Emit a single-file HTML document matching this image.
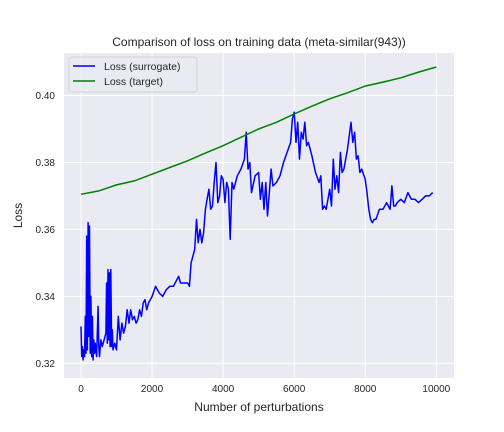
<!DOCTYPE html>
<html><head><meta charset="utf-8"><style>
body{margin:0;background:#fff}
svg{display:block;font-family:"Liberation Sans","DejaVu Sans",sans-serif}
</style></head><body>
<svg id="chart" width="504" height="432" viewBox="0 0 504 432" xmlns="http://www.w3.org/2000/svg">
<rect x="0" y="0" width="504" height="432" fill="#fff"/>
<rect x="64" y="53" width="390" height="325" fill="#EAEAF2"/>
<g id="grid"></g>
<g id="series"></g>
<g id="ticks"></g>
<text x="259" y="46" text-anchor="middle" font-size="12" fill="#262626">Comparison of loss on training data (meta-similar(943))</text>
<text x="259" y="411" text-anchor="middle" font-size="12" fill="#262626">Number of perturbations</text>
<text transform="translate(22,215.5) rotate(-90)" text-anchor="middle" font-size="12" fill="#262626">Loss</text>
<g>
<rect x="69" y="57" width="128" height="35" rx="3" fill="#EAEAF2" fill-opacity="0.8" stroke="#cccccc" stroke-width="0.8"/>
<line x1="73" y1="66" x2="95" y2="66" stroke="#0000ff" stroke-width="1.5"/>
<text x="104" y="70" font-size="10.5" fill="#262626">Loss (surrogate)</text>
<line x1="73" y1="81" x2="95" y2="81" stroke="#008000" stroke-width="1.5"/>
<text x="104" y="85" font-size="10.5" fill="#262626">Loss (target)</text>
</g>
</svg>
<script>
const xTicks=[0,2000,4000,6000,8000,10000];
const yTicks=[0.32,0.34,0.36,0.38,0.40];
const yTickLabels=["0.32","0.34","0.36","0.38","0.40"];
const targetX=[0,500,1000,1500,2000,2500,3000,3500,4000,4500,5000,5500,6000,6500,7000,7500,8000,8500,9000,9500,10000];
const targetY=[0.3705,0.3715,0.3733,0.3745,0.3765,0.3785,0.3805,0.3828,0.3850,0.3875,0.3900,0.3920,0.3945,0.3968,0.3990,0.4008,0.4028,0.4040,0.4053,0.4070,0.4085];
const surX=[0,20,40,60,80,100,120,140,160,180,200,220,240,260,280,300,320,340,360,380,400,440,480,500,520,560,600,650,700,720,740,760,780,800,820,840,860,880,900,950,1000,1050,1100,1150,1200,1250,1300,1350,1400,1450,1500,1550,1600,1650,1700,1750,1800,1850,1900,2000,2100,2200,2300,2400,2500,2600,2700,2750,2800,2900,3000,3050,3100,3150,3200,3250,3300,3350,3400,3450,3500,3550,3600,3650,3700,3750,3800,3850,3900,3950,4000,4050,4100,4150,4200,4250,4300,4400,4500,4600,4650,4700,4750,4800,4900,5000,5050,5100,5150,5200,5250,5300,5350,5400,5500,5600,5700,5800,5900,5950,6000,6050,6100,6150,6200,6250,6300,6350,6400,6500,6600,6700,6750,6800,6850,6900,7000,7050,7100,7150,7200,7250,7300,7350,7400,7500,7600,7650,7700,7750,7800,7850,7900,8000,8050,8100,8150,8200,8250,8300,8400,8500,8600,8700,8750,8800,8850,8900,9000,9100,9200,9300,9400,9500,9600,9700,9800,9900,10000];
const surY=[0.331,0.322,0.325,0.321,0.324,0.322,0.334,0.323,0.358,0.324,0.362,0.328,0.361,0.323,0.340,0.322,0.334,0.321,0.327,0.323,0.326,0.322,0.337,0.325,0.322,0.327,0.325,0.327,0.329,0.344,0.326,0.348,0.327,0.347,0.325,0.348,0.325,0.330,0.324,0.326,0.324,0.334,0.327,0.332,0.329,0.331,0.336,0.332,0.336,0.333,0.334,0.332,0.333,0.336,0.334,0.338,0.339,0.336,0.338,0.340,0.343,0.341,0.340,0.342,0.343,0.343,0.345,0.346,0.344,0.344,0.344,0.343,0.350,0.352,0.354,0.363,0.356,0.360,0.356,0.359,0.366,0.369,0.372,0.366,0.367,0.374,0.380,0.368,0.370,0.376,0.375,0.368,0.374,0.372,0.357,0.374,0.372,0.376,0.378,0.381,0.389,0.378,0.380,0.371,0.376,0.377,0.369,0.374,0.366,0.374,0.364,0.371,0.378,0.373,0.374,0.376,0.380,0.383,0.386,0.393,0.395,0.386,0.392,0.381,0.389,0.387,0.392,0.385,0.386,0.382,0.377,0.374,0.376,0.366,0.367,0.366,0.372,0.367,0.381,0.372,0.376,0.371,0.383,0.377,0.378,0.384,0.392,0.386,0.389,0.381,0.382,0.377,0.378,0.375,0.371,0.366,0.363,0.362,0.363,0.363,0.366,0.366,0.368,0.366,0.373,0.367,0.367,0.368,0.369,0.368,0.371,0.369,0.369,0.368,0.369,0.370,0.370,0.371];
const NS="http://www.w3.org/2000/svg";
const L=64,R=454,T=53,B=378;
function sx(v){return 81+(v-0)*(436.3-81)/10000;}
function sy(v){return 95.5+(0.40-v)*(363.3-95.5)/0.08;}
function mk(tag,attrs,parent){const e=document.createElementNS(NS,tag);for(const k in attrs)e.setAttribute(k,attrs[k]);parent.appendChild(e);return e;}
const grid=document.getElementById('grid'),ticks=document.getElementById('ticks'),series=document.getElementById('series');
xTicks.forEach(v=>{const x=sx(v);
 const g=mk('line',{x1:x,x2:x,y1:T,y2:B,stroke:'#fff','stroke-width':1},grid);
 
 
 const t=mk('text',{x:x,y:B+14,'text-anchor':'middle','font-size':10,fill:'#262626'},ticks);t.textContent=String(v);
 
 
});
yTicks.forEach((v,i)=>{const y=sy(v);
 const g=mk('line',{x1:L,x2:R,y1:y,y2:y,stroke:'#fff','stroke-width':1},grid);
 
 
 const t=mk('text',{x:L-9,y:y+3.5,'text-anchor':'end','font-size':10,fill:'#262626'},ticks);t.textContent=yTickLabels[i];
 
 
});
function pts(xs,ys){return xs.map((x,i)=>sx(x).toFixed(1)+','+sy(ys[i]).toFixed(1)).join(' ');}
const s1=mk('polyline',{points:pts(surX,surY),fill:'none',stroke:'#0000ff','stroke-width':1.5,'stroke-linejoin':'round'},series);


const s2=mk('polyline',{points:pts(targetX,targetY),fill:'none',stroke:'#008000','stroke-width':1.5},series);


</script>
</body></html>
